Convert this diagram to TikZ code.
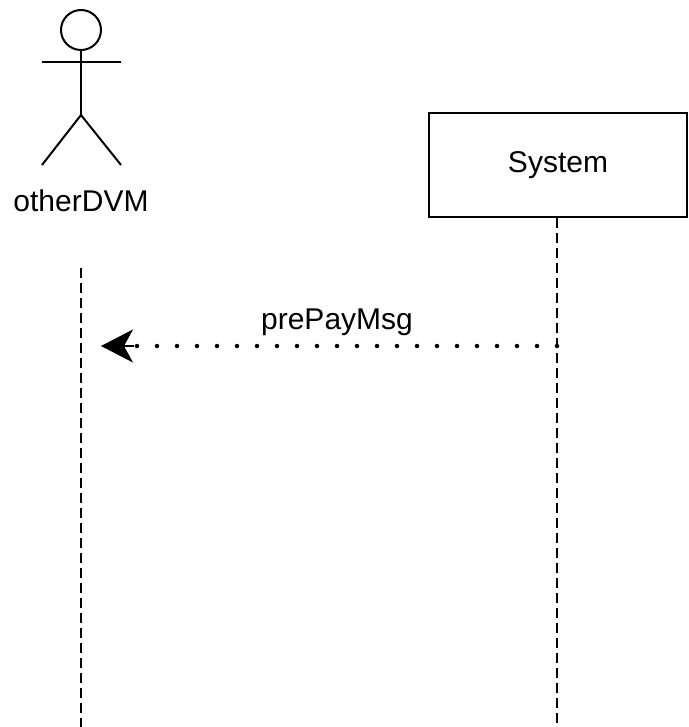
\documentclass[tikz,border=0pt]{standalone}
\usepackage{fontspec}
\setmainfont{Liberation Sans}
\usetikzlibrary{arrows.meta}

\begin{document}
\begin{tikzpicture}[x=1pt,y=-1pt,line width=2pt,
    lbl/.style={font=\fontsize{30}{35}\selectfont},
    lifeline/.style={dash pattern=on 10pt off 5pt},
    msg/.style={line width=4.5pt,line cap=round,dash pattern=on 0pt off 20pt},
    tip/.style={-{Stealth[length=32pt,width=33pt,inset=9pt]}}]
      \useasboundingbox (0,0) rectangle (688,727);
      % actor
      \draw (81,30) circle (20);
      \draw (42,62) -- (121,62);
      \draw (81,50) -- (81,115);
      \draw (42,165) -- (81,115) -- (121,165);
      \node[lbl] (dvm) at (81,201) {otherDVM};
      % system
      \node[lbl,draw,minimum width=258pt,minimum height=104pt] (sys) at (558,165) {System};
      \coordinate (dvmtop) at (81,268);
      \coordinate (dvmend) at (81,727);
      \coordinate (sysend) at (557,727);
      \draw[lifeline] (dvmtop) -- (dvmend);
      \draw[lifeline] (sys.south -| sysend) -- (sysend);
      % message
      \coordinate (from) at (557,346);
      \coordinate (to) at (101,346);
      \draw[msg] (from) -- (to);
      \draw[tip,line width=1.6pt] (134,346) -- (to);
      \node[lbl] (pre) at (337,322) {prePayMsg};
\end{tikzpicture}
\end{document}
